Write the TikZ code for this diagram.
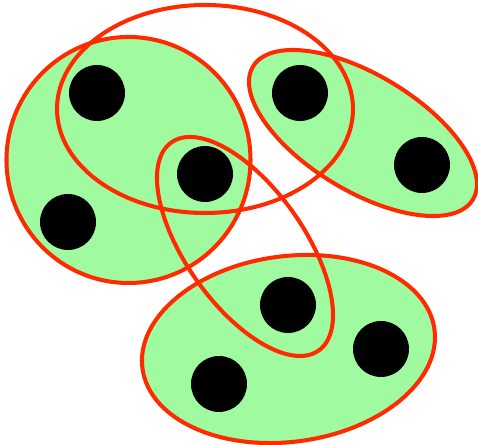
\documentclass[tikz,border=0pt]{standalone}
\usepackage{xcolor}
\usepackage{tikz}
\usetikzlibrary{shapes.geometric, positioning}

\definecolor{hgreen}{HTML}{A0FBA0}
\definecolor{hred}{HTML}{FF2A00}

\begin{document}
\begin{tikzpicture}[
    x=0.02cm, y=0.02cm,
    vertex/.style={circle, fill=black, minimum size=1.12cm, inner sep=0pt},
    edgefill/.style={fill=hgreen},
    edgeline/.style={draw=hred, line width=2.3pt},
]
\useasboundingbox (0,0) rectangle (478,445);

% centres of the hyperedges
\coordinate (eLeft) at (128.5,285);
\coordinate (eRight) at (363,312);
\coordinate (eBottom) at (288.5,96);
\coordinate (eTop) at (205,336);
\coordinate (eLong) at (245,198.5);

% filled hyperedges
\fill[edgefill] (eLeft) ellipse [x radius=122, y radius=123];
\fill[edgefill, rotate around={-31.2:(eRight)}] (eRight) ellipse [x radius=128.5, y radius=58];
\fill[edgefill, rotate around={7.65:(eBottom)}] (eBottom) ellipse [x radius=147.3, y radius=92.8];

% outlines
\draw[edgeline] (eLeft) ellipse [x radius=122, y radius=123];
\draw[edgeline, rotate around={-31.2:(eRight)}] (eRight) ellipse [x radius=128.5, y radius=58];
\draw[edgeline, rotate around={7.65:(eBottom)}] (eBottom) ellipse [x radius=147.3, y radius=92.8];
\draw[edgeline] (eTop) ellipse [x radius=148, y radius=104];
\draw[edgeline, rotate around={-54.7:(eLong)}] (eLong) ellipse [x radius=127.5, y radius=59];

% vertices
\node[vertex] (v1) at (97,352) {};
\node[vertex] (v2) at (300,352) {};
\node[vertex] (v3) at (205,271) {};
\node[vertex] (v4) at (68,223) {};
\node[vertex] (v5) at (422,280) {};
\node[vertex] (v6) at (288,140) {};
\node[vertex] (v7) at (381,96) {};
\node[vertex] (v8) at (219,61) {};

\end{tikzpicture}
\end{document}
